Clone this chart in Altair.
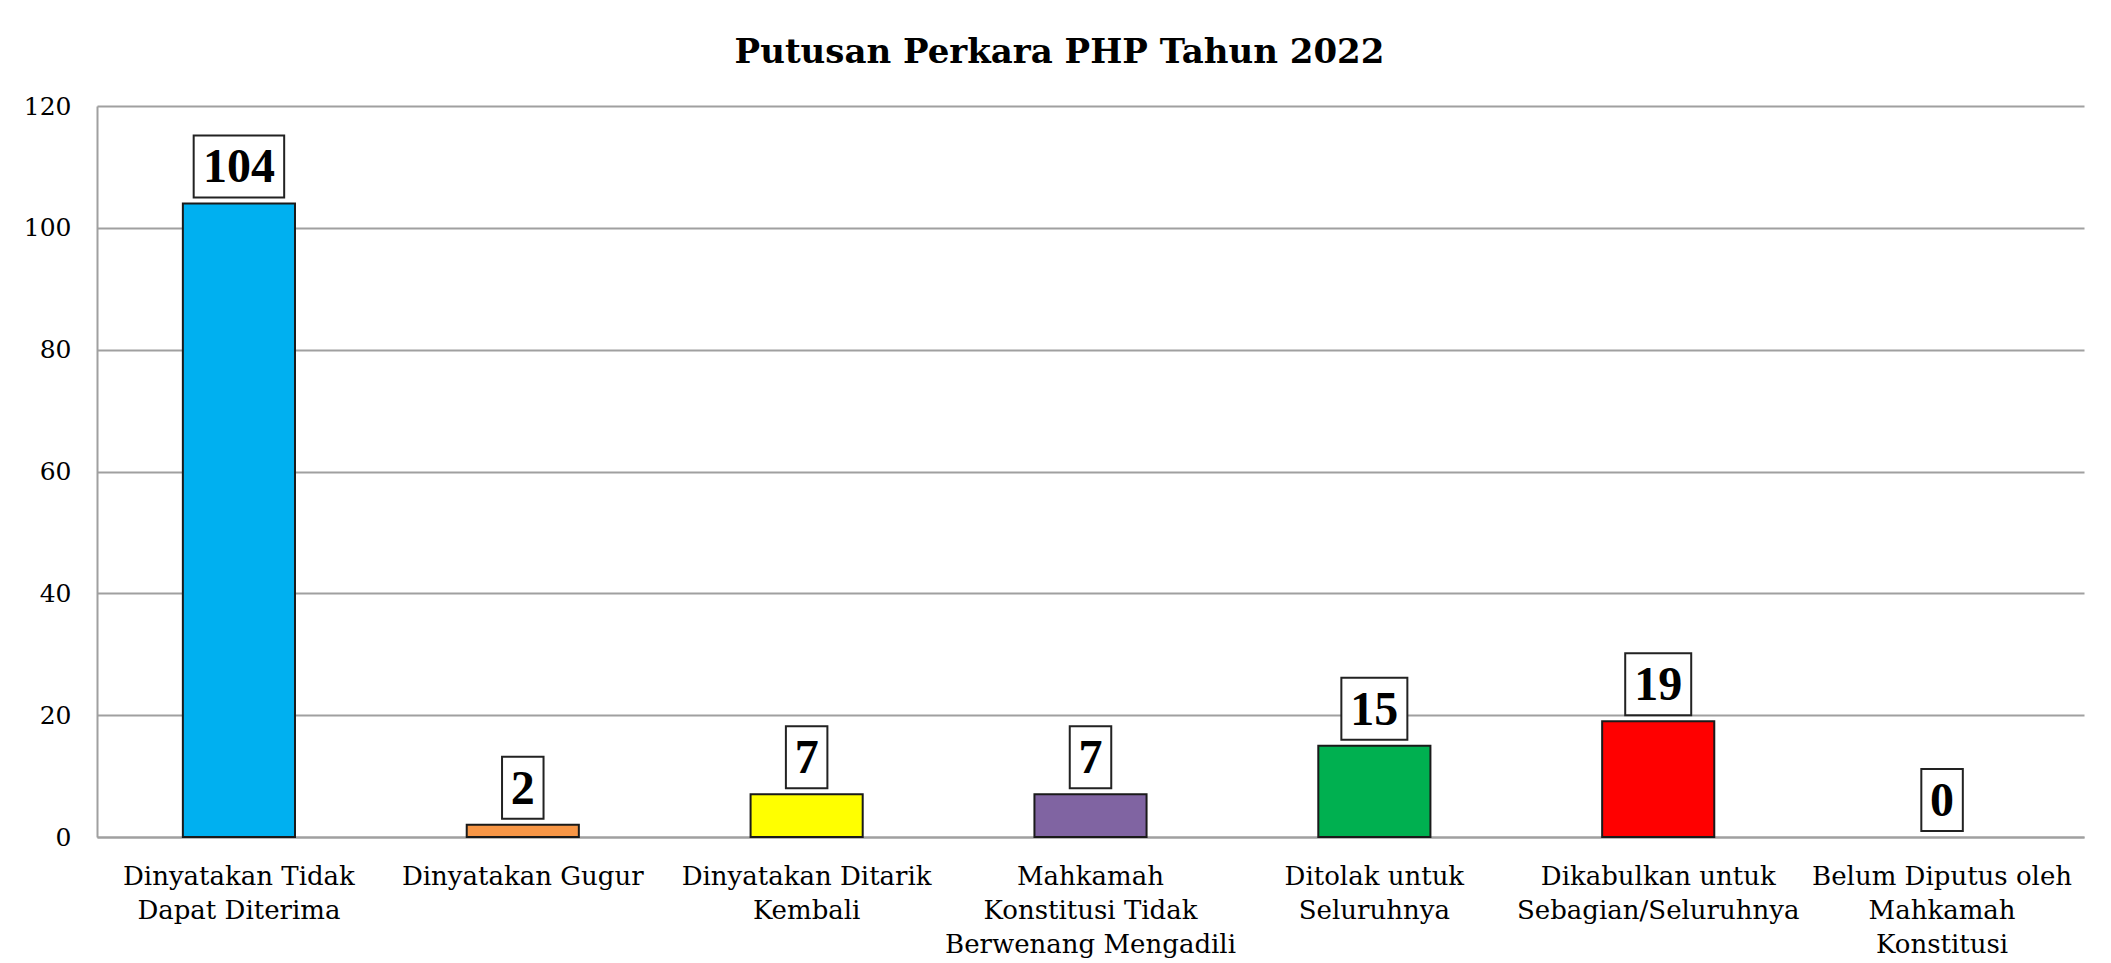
import altair as alt
import pandas as pd

categories = [
    "Dinyatakan Tidak\nDapat Diterima",
    "Dinyatakan Gugur",
    "Dinyatakan Ditarik\nKembali",
    "Mahkamah\nKonstitusi Tidak\nBerwenang Mengadili",
    "Ditolak untuk\nSeluruhnya",
    "Dikabulkan untuk\nSebagian/Seluruhnya",
    "Belum Diputus oleh\nMahkamah\nKonstitusi",
]
values = [104, 2, 7, 7, 15, 19, 0]
colors = ["#00B0F0", "#F79646", "#FFFF00", "#8064A2", "#00B050", "#FF0000", "#4F81BD"]
y_ticks = [0, 20, 40, 60, 80, 100, 120]
title_text = "Putusan Perkara PHP Tahun 2022"

df = pd.DataFrame({"kategori": categories, "jumlah": values})

x_enc = alt.X(
    "kategori:N",
    sort=categories,
    title=None,
    scale=alt.Scale(paddingInner=0.605, paddingOuter=0.3025),
    axis=alt.Axis(
        labelExpr="split(datum.label, '\\n')",
        labelAngle=0,
        labelFont="DejaVu Serif",
        labelFontSize=26,
        labelLineHeight=34,
        labelColor="#000000",
        labelPadding=26,
        labelBaseline="top",
        labelLimit=0,
        labelOverlap=False,
        ticks=False,
        tickSize=0,
        domain=True,
        domainColor="#a0a0a0",
        domainWidth=2,
        grid=False,
    ),
)

y_scale = alt.Scale(domain=[0, 120], nice=False, zero=True)

bars = (
    alt.Chart(df)
    .transform_filter("datum.jumlah > 0")
    .mark_bar(stroke="#1a1a1a", strokeWidth=2)
    .encode(
        x=x_enc,
        y=alt.Y(
            "jumlah:Q",
            scale=y_scale,
            title=None,
            axis=alt.Axis(
                values=y_ticks,
                labelFont="DejaVu Serif",
                labelFontSize=25,
                labelColor="#000000",
                labelPadding=26,
                ticks=False,
                tickSize=0,
                domain=True,
                domainColor="#a0a0a0",
                domainWidth=2,
                grid=True,
                gridColor="#a0a0a0",
                gridWidth=2,
            ),
        ),
        color=alt.Color(
            "kategori:N",
            scale=alt.Scale(domain=categories, range=colors),
            legend=None,
        ),
    )
)

boxes = (
    alt.Chart(df)
    .transform_calculate(boxw="length(toString(datum.jumlah)) * 24.5 + 17")
    .mark_bar(fill="white", stroke="#222222", strokeWidth=2, yOffset=-68, y2Offset=-6)
    .encode(
        x=alt.X("kategori:N", sort=categories),
        y=alt.Y("jumlah:Q", scale=y_scale),
        y2=alt.Y2("jumlah"),
        size=alt.Size("boxw:Q", scale=None),
    )
)

labels = (
    alt.Chart(df)
    .mark_text(
        font="Liberation Serif",
        fontWeight="bold",
        fontSize=48,
        baseline="alphabetic",
        align="center",
        dy=-21,
        color="#000000",
    )
    .encode(
        x=alt.X("kategori:N", sort=categories),
        y=alt.Y("jumlah:Q", scale=y_scale),
        text=alt.Text("jumlah:Q"),
    )
)

chart = (
    alt.layer(bars, boxes, labels)
    .properties(
        width=1987,
        height=731,
        title=alt.TitleParams(
            text=title_text,
            font="DejaVu Serif",
            fontSize=34,
            fontWeight="bold",
            color="#000000",
            anchor="middle",
            frame="group",
            baseline="alphabetic",
            offset=-3,
            dx=-31,
        ),
        autosize=alt.AutoSizeParams(type="none"),
        padding={"left": 89, "top": 98, "right": 10, "bottom": 126},
        background="white",
    )
    .configure_view(stroke=None)
)

chart.save("out.html", embed_options={"renderer": "svg", "actions": False})
